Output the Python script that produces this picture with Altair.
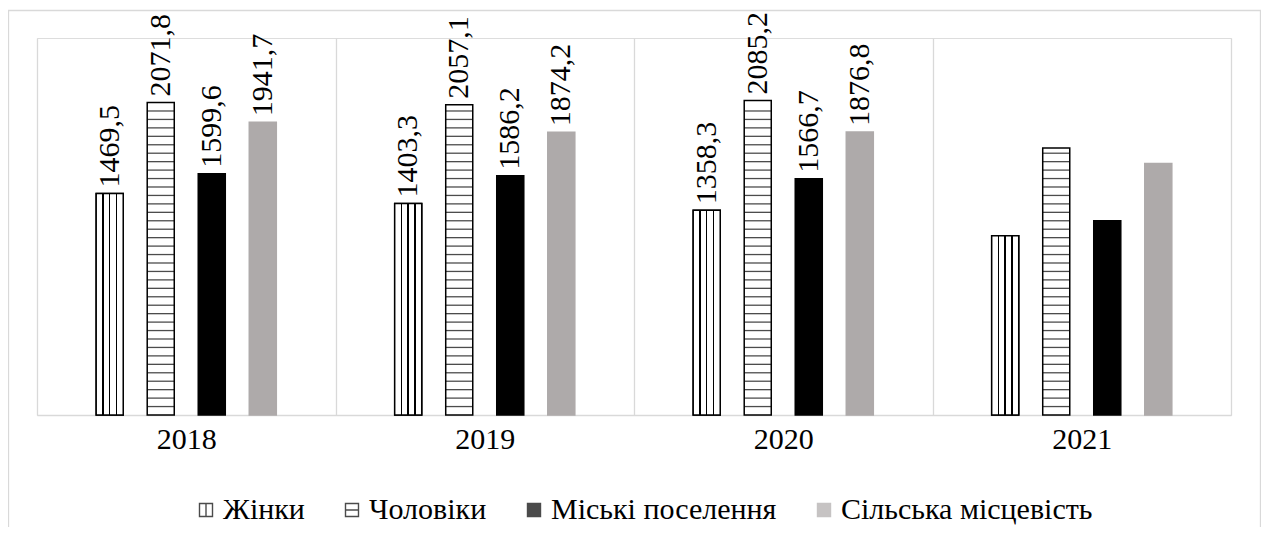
import altair as alt
import pandas as pd
import numpy as np

years = ["2018", "2019", "2020", "2021"]
series = ["Жінки", "Чоловіки", "Міські поселення", "Сільська місцевість"]
zhinky = [1469.5, 1403.3, 1358.3, 1189.0]
choloviky = [2071.8, 2057.1, 2085.2, 1771.0]
miski = [1599.6, 1586.2, 1566.7, 1288.0]
silska = [1941.7, 1874.2, 1876.8, 1667.0]
labelled_years = ["2018", "2019", "2020"]

values_by_series = [zhinky, choloviky, miski, silska]
rows = []
for s, vals in zip(series, values_by_series):
    for yr, v in zip(years, vals):
        rows.append({"year": yr, "series": s, "value": v, "show": yr in labelled_years})
df = pd.DataFrame(rows)

# horizontal hatch pattern for "Чоловіки" (pattern spacing, not data)
stripe_step = 56
stripe_rows = []
for yr, v in zip(years, choloviky):
    for sv in np.arange(stripe_step, v - stripe_step * 0.4, stripe_step):
        stripe_rows.append({"year": yr, "series": "Чоловіки", "stripe": float(sv)})
stripes = pd.DataFrame(stripe_rows)

FONT = "Liberation Serif"
FS = 30
GRAY = "#aeaaaa"
GRID = "#d9d9d9"
W, H = 1194, 377


def stops(pairs):
    return [alt.GradientStop(color=c, offset=o) for o, c in pairs]


def line_stops(centers, half):
    pairs = [(0, "white")]
    for c in centers:
        pairs += [(c - half, "white"), (c - half, "black"), (c + half, "black"), (c + half, "white")]
    pairs.append((1, "white"))
    return pairs


bar_grad = alt.LinearGradient(gradient="linear", x1=0, x2=1, y1=0, y2=0,
                              stops=stops(line_stops([0.25, 0.5, 0.75], 0.027)))

offset_domain = ["_pad0"] + series + ["_pad1"]

x = alt.X("year:N", sort=years, scale=alt.Scale(paddingInner=0, paddingOuter=0),
          axis=alt.Axis(title=None, grid=True, tickBand="extent", ticks=False,
                        domainColor=GRID, domainWidth=1.3, gridColor=GRID, gridWidth=1.3,
                        labelAngle=0, labelFont=FONT, labelFontSize=FS, labelColor="black",
                        labelPadding=9))
xo = alt.XOffset("series:N", sort=series,
                 scale=alt.Scale(domain=offset_domain, paddingInner=0.47, paddingOuter=0.16))
yenc = alt.Y("value:Q", scale=alt.Scale(domain=[0, 2500], nice=False), axis=None)


def make_legend():
    return alt.Legend(
        title=None, orient="none", legendX=154, legendY=457, direction="horizontal",
        symbolSize=169, symbolStrokeWidth=1.4,
        labelFont=FONT, labelFontSize=FS, labelColor="black", labelOffset=2,
        columnPadding=32, padding=0, labelLimit=500,
    )


color_enc = alt.Color("series:N", sort=series,
                      scale=alt.Scale(domain=series, range=["#ffffff", "#ffffff", "#000000", GRAY]),
                      legend=make_legend())
stroke_enc = alt.Stroke("series:N", sort=series,
                        scale=alt.Scale(domain=series, range=["#000000", "#000000", "#000000", GRAY]),
                        legend=make_legend())
shape_enc = alt.Shape("series:N", sort=series,
                      scale=alt.Scale(domain=series, range=[
                          "M-1,-1H1V1H-1ZM0,-1V1",
                          "M-1,-1H1V1H-1ZM-1,0H1",
                          "square", "square"]),
                      legend=make_legend())

bars = alt.Chart(df).mark_bar(strokeWidth=1.5).encode(
    x=x, xOffset=xo, y=yenc, color=color_enc, stroke=stroke_enc,
)

# legend carrier: no rows drawn, only supplies the symbol shapes
legend_pts = alt.Chart(df).transform_filter("false").mark_point(filled=True).encode(
    x=x, xOffset=xo, y=yenc, color=color_enc, stroke=stroke_enc, shape=shape_enc,
)

zh_bars = alt.Chart(df).transform_filter("datum.series === 'Жінки'").mark_bar(
    fill=bar_grad, stroke="black", strokeWidth=1.5
).encode(x=x, xOffset=xo, y=yenc)

ticks = alt.Chart(stripes).mark_tick(orient="horizontal", size=27, thickness=1.3, color="black").encode(
    x=x, xOffset=xo, y=alt.Y("stripe:Q", scale=alt.Scale(domain=[0, 2500], nice=False), axis=None)
)

labels = alt.Chart(df).transform_filter("datum.show").transform_calculate(
    label="replace(format(datum.value, '.1f'), '.', ',')"
).mark_text(angle=270, align="left", baseline="middle", dx=6, font=FONT, fontSize=FS, color="black").encode(
    x=x, xOffset=xo, y=yenc, text="label:N"
)

frame = alt.Chart(alt.Data(values=[{"a": 1}])).mark_rect(fillOpacity=0, stroke=GRID, strokeWidth=1.3).encode(
    x=alt.value(-28.5), x2=alt.value(W + 29.5), y=alt.value(-27.5), y2=alt.value(H + 200)
)

chart = alt.layer(frame, bars, zh_bars, ticks, labels, legend_pts).properties(
    width=W, height=H,
    padding={"left": 29, "top": 30, "right": 30, "bottom": 112},
    autosize=alt.AutoSizeParams(type="none"),
).configure_view(strokeWidth=0).configure(background="white", font=FONT)

chart.save("out.html", embed_options={"renderer": "svg", "actions": False})
